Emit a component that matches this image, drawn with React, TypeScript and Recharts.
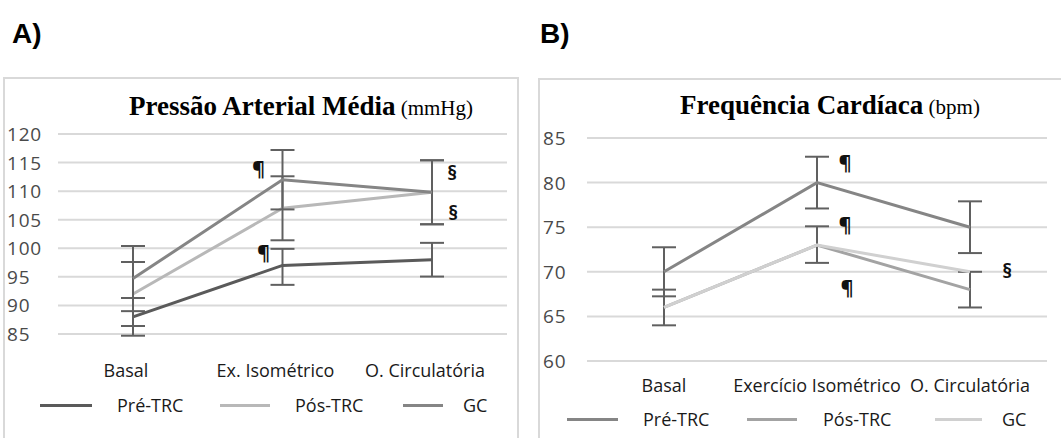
import { LineChart, Line, XAxis, YAxis, CartesianGrid, ErrorBar, Legend, ReferenceDot } from 'recharts';

// ---- data ----
const categoriesA = ['Basal', 'Ex. Isométrico', 'O. Circulatória'];
const preA = [88, 97, 98];
const posA = [92, 107, 109.8];
const gcA = [94.7, 112, 109.8];
const preErrA = [3.3, [3.4, 2.9], 2.95];
const posErrA = [5.6, 5.6, 5.6];
const gcErrA = [5.7, 5.2, 5.6];
const ticksA = [85, 90, 95, 100, 105, 110, 115, 120];

const categoriesB = ['Basal', 'Exercício Isométrico', 'O. Circulatória'];
const preB = [70, 80, 75];
const posB = [66, 73, 68];
const gcB = [66, 73, 70];
const preErrB = [2.75, 2.9, 2.9];
const posErrB = [2, [2, 2.1], 2];
const gcErrB = [null, null, null];
const ticksB = [60, 65, 70, 75, 80, 85];

const seriesNames = ['Pré-TRC', 'Pós-TRC', 'GC'];

// significance marks: category index, y value, symbol
const marksA = [
  { cat: 1, y: 114.05, sym: '¶' },
  { cat: 1, y: 99.2, sym: '¶' },
  { cat: 2, y: 113.2, sym: '§' },
  { cat: 2, y: 106.2, sym: '§' },
];
const marksB = [
  { cat: 1, y: 82.3, sym: '¶' },
  { cat: 1, y: 75.25, sym: '¶' },
  { cat: 1, y: 68.2, sym: '¶' },
  { cat: 2, y: 70.2, sym: '§' },
];

// ---- styles ----
const SANS = '"Open Sans", sans-serif';
const SERIF = '"Liberation Serif", "Times New Roman", serif';
const colorsA = ['#5a5a5a', '#b8b8b8', '#858585'];
const colorsB = ['#858585', '#a3a3a3', '#d0d0d0'];
const ERR = '#606060';
const GRID = '#d9d9d9';

const layoutA = {
  width: 530,
  height: 438,
  margin: { top: 134, right: 23, bottom: 44, left: 0 },
  yWidth: 58,
  pad: 75,
  yTickX: 7,
  xLabelY: 370,
  xLabelDx: -7,
  markDx: [-24, -19, 20, 21],
  legendY: 405,
  legendLineX: [40, 220, 403],
  legendLineW: [52, 50, 40],
  legendTextX: [117, 295, 463],
};
const layoutB = {
  width: 531,
  height: 438,
  margin: { top: 138, right: 14, bottom: 17, left: 0 },
  yWidth: 57,
  pad: 77,
  yTickX: 13,
  xLabelY: 385,
  xLabelDx: 0,
  markDx: [28, 28, 30, 37],
  legendY: 419,
  legendLineX: [37, 217, 405],
  legendLineW: [51, 50, 47],
  legendTextX: [113, 293, 472],
};

type Layout = typeof layoutA;

const Mark = (props: any) => {
  const { viewBox, sym, dx } = props;
  const cx = viewBox.x + (viewBox.width || 0) / 2 + dx;
  const cy = viewBox.y + (viewBox.height || 0) / 2;
  return (
    <text x={cx} y={cy} textAnchor="middle" dominantBaseline="central" fontFamily={SANS} fontWeight="bold" fontSize={20} fill="#111">
      {sym}
    </text>
  );
};

function Panel({ categories, values, errs, colors, domain, ticks, marks, layout }: {
  categories: string[];
  values: number[][];
  errs: any[][];
  colors: string[];
  domain: [number, number];
  ticks: number[];
  marks: { cat: number; y: number; sym: string }[];
  layout: Layout;
}) {
  const data = categories.map((c, i) => ({
    cat: c,
    s0: values[0][i], e0: errs[0][i],
    s1: values[1][i], e1: errs[1][i],
    s2: values[2][i], e2: errs[2][i],
  }));

  // legend in series order (recharts sorts the payload by name otherwise)
  const legendContent = () => (
    <div style={{ position: 'relative', width: layout.width, height: 30 }}>
      {seriesNames.map((name, i) => (
        <div key={name}>
          <div style={{ position: 'absolute', left: layout.legendLineX[i], top: 14, width: layout.legendLineW[i], height: 3, background: colors[i] }} />
          <div style={{ position: 'absolute', left: layout.legendTextX[i], top: 3, fontFamily: SANS, fontSize: 18, lineHeight: '24px', color: '#1a1a1a', whiteSpace: 'nowrap' }}>
            {name}
          </div>
        </div>
      ))}
    </div>
  );

  return (
    <LineChart width={layout.width} height={layout.height} data={data} margin={layout.margin}>
      <CartesianGrid vertical={false} stroke={GRID} strokeWidth={2} />
      <XAxis
        dataKey="cat"
        axisLine={false}
        tickLine={false}
        height={60}
        padding={{ left: layout.pad, right: layout.pad }}
        interval={0}
        tick={(p: any) => (
          <text x={p.x + layout.xLabelDx} y={layout.xLabelY} textAnchor="middle" dominantBaseline="central" fontFamily={SANS} fontSize={18} fill="#1a1a1a">
            {p.payload.value}
          </text>
        )}
      />
      <YAxis
        domain={domain}
        ticks={ticks}
        allowDataOverflow
        axisLine={false}
        tickLine={false}
        width={layout.yWidth}
        tick={(p: any) => (
          <text x={layout.yTickX} y={p.y} textAnchor="start" dominantBaseline="central" fontFamily={SANS} fontSize={19} letterSpacing={0.8} fill="#4a4a4a">
            {p.payload.value}
          </text>
        )}
      />
      {[0, 1, 2].map((k) => (
        <Line
          key={k}
          dataKey={`s${k}`}
          name={seriesNames[k]}
          stroke={colors[k]}
          strokeWidth={3}
          dot={false}
          activeDot={false}
          isAnimationActive={false}
        >
          <ErrorBar dataKey={`e${k}`} direction="y" width={12} stroke={ERR} strokeWidth={2} />
        </Line>
      ))}
      {marks.map((m, i) => (
        <ReferenceDot
          key={i}
          x={categories[m.cat]}
          y={m.y}
          r={0}
          fill="none"
          stroke="none"
          label={<Mark sym={m.sym} dx={layout.markDx[i]} />}
        />
      ))}
      <Legend
        layout="vertical"
        align="center"
        verticalAlign="middle"
        wrapperStyle={{ left: 0, top: layout.legendY - 15, width: layout.width, height: 30 }}
        content={legendContent}
      />
    </LineChart>
  );
}

export default function App() {
  return (
    <div style={{ position: 'absolute', left: 0, top: 0, width: 1061, height: 438, background: '#fff', overflow: 'hidden' }}>
      <div style={{ position: 'absolute', left: 3, top: 77, width: 516, height: 420, border: '2px solid #d9d9d9', boxSizing: 'border-box' }} />
      <div style={{ position: 'absolute', left: 538, top: 78, width: 600, height: 420, border: '2px solid #d9d9d9', boxSizing: 'border-box' }} />
      <svg width={1061} height={438} style={{ position: 'absolute', left: 0, top: 0 }}>
        <text x={12} y={43} fontFamily='"Liberation Sans", Arial, sans-serif' fontWeight="bold" fontSize={28} fill="#000">A)</text>
        <text x={540} y={43} fontFamily='"Liberation Sans", Arial, sans-serif' fontWeight="bold" fontSize={28} fill="#000">B)</text>
        <text x={301} y={115} textAnchor="middle" fontFamily={SERIF} fill="#000">
          <tspan fontWeight="bold" fontSize={27}>Pressão Arterial Média</tspan>
          <tspan fontSize={21}> (mmHg)</tspan>
        </text>
        <text x={830} y={114} textAnchor="middle" fontFamily={SERIF} fill="#000">
          <tspan fontWeight="bold" fontSize={27}>Frequência Cardíaca</tspan>
          <tspan fontSize={21}> (bpm)</tspan>
        </text>
      </svg>
      <div style={{ position: 'absolute', left: 0, top: 0 }}>
        <Panel
          categories={categoriesA}
          values={[preA, posA, gcA]}
          errs={[preErrA, posErrA, gcErrA]}
          colors={colorsA}
          domain={[85, 120]}
          ticks={ticksA}
          marks={marksA}
          layout={layoutA}
        />
      </div>
      <div style={{ position: 'absolute', left: 530, top: 0 }}>
        <Panel
          categories={categoriesB}
          values={[preB, posB, gcB]}
          errs={[preErrB, posErrB, gcErrB]}
          colors={colorsB}
          domain={[60, 85]}
          ticks={ticksB}
          marks={marksB}
          layout={layoutB}
        />
      </div>
    </div>
  );
}
